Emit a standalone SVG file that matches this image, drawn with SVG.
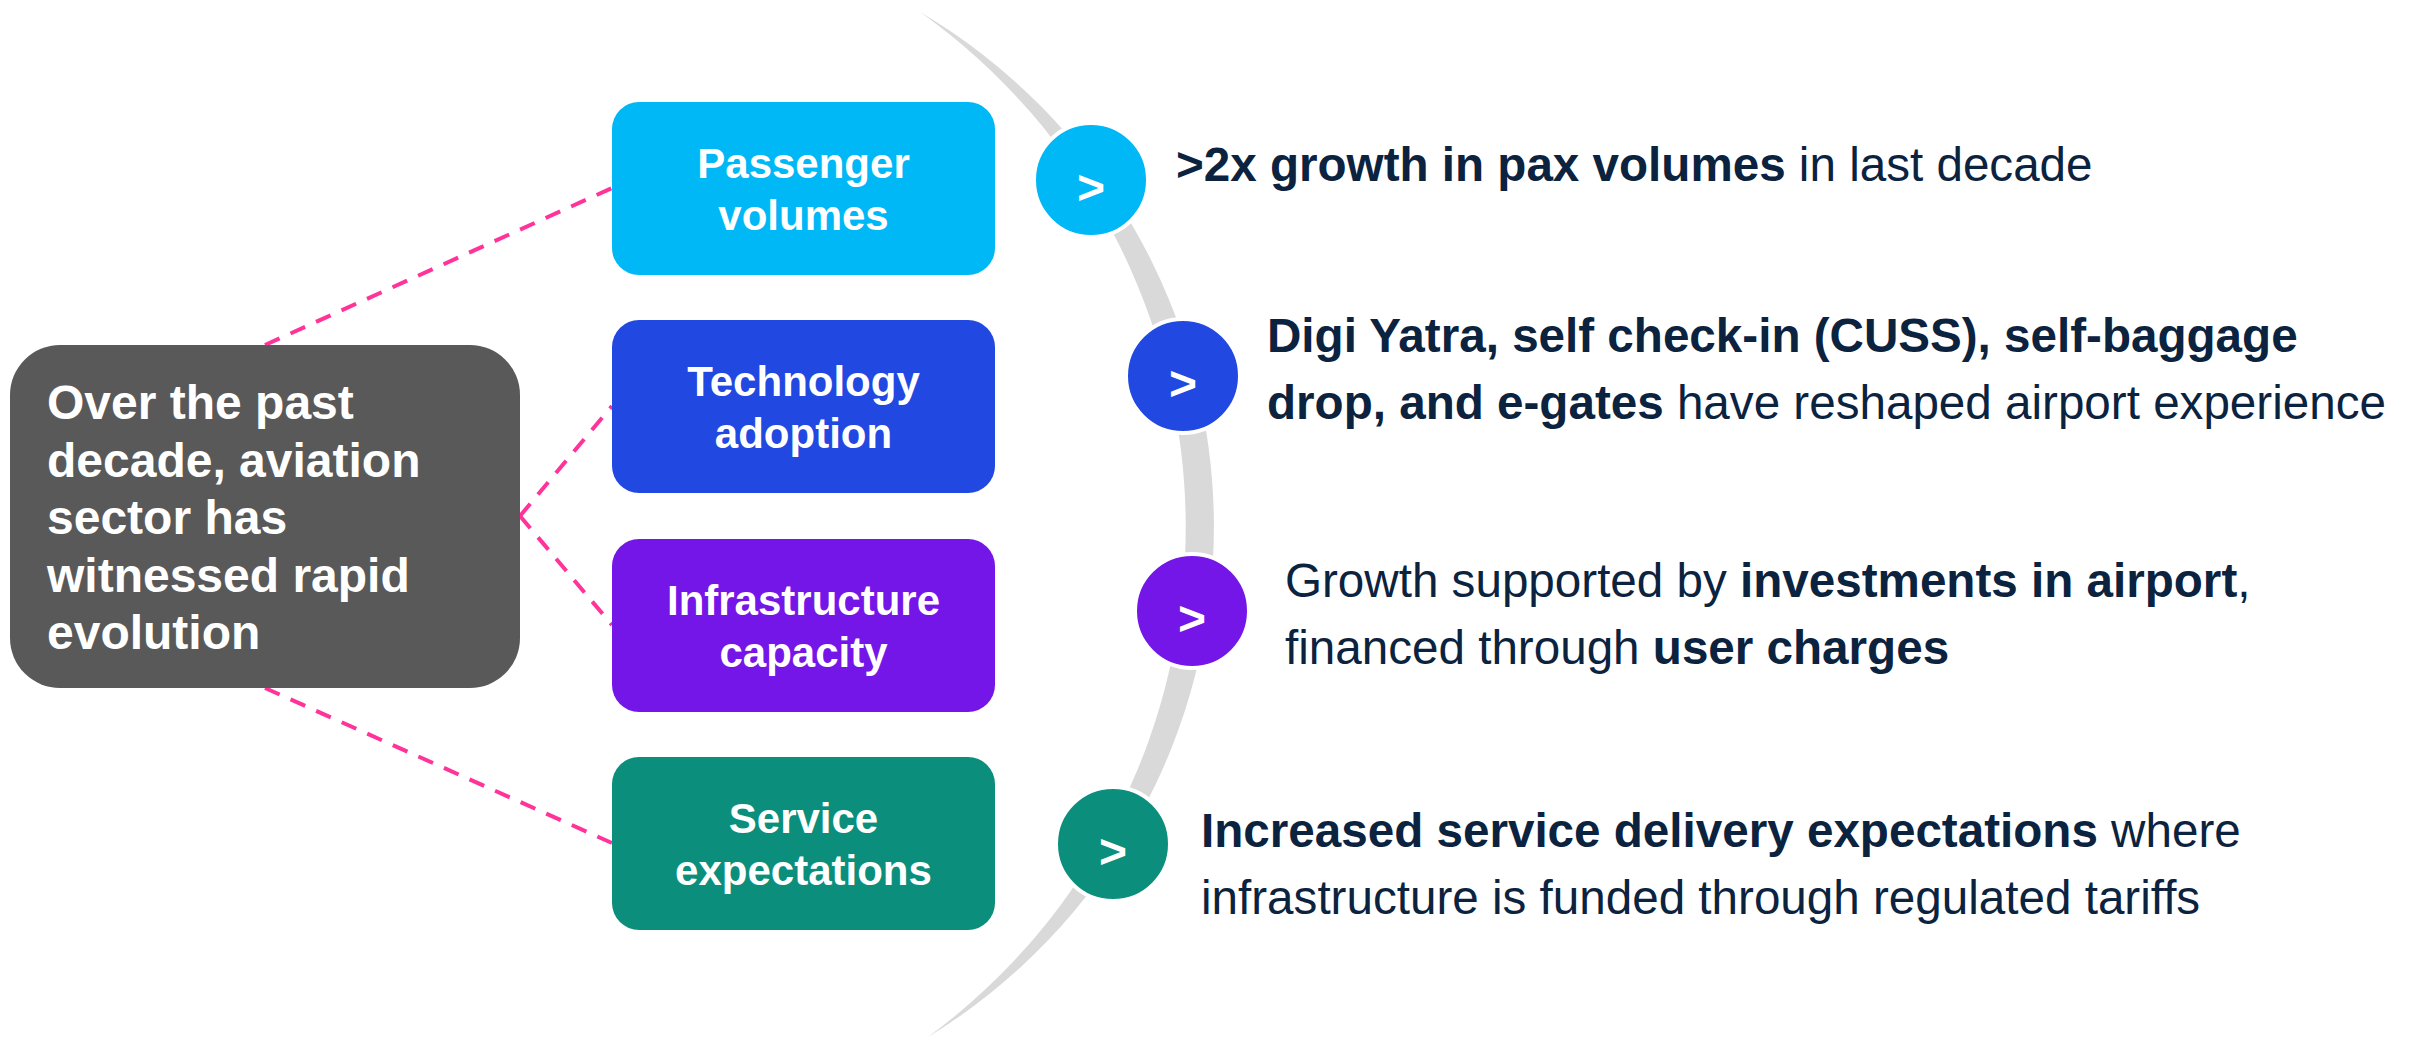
<svg xmlns="http://www.w3.org/2000/svg" width="2417" height="1037" viewBox="0 0 2417 1037">
<style>
  text { font-family: "Liberation Sans", Arial, sans-serif; }
  .lbl { font-size: 42px; font-weight: bold; fill: #ffffff; text-anchor: middle; }
  .hub { font-size: 48px; font-weight: bold; fill: #ffffff; }
  .chev { font-size: 48px; font-weight: bold; fill: #ffffff; text-anchor: middle; }
  .desc { font-size: 47.6px; fill: #0C2340; }
  .b { font-weight: bold; }
  .dash { stroke: #FF3399; stroke-width: 4; stroke-dasharray: 16 12; fill: none; }
  .dot { stroke: #ffffff; stroke-width: 4; }
</style>
<rect width="2417" height="1037" fill="#ffffff"/>

<path id="arc" d="M 920 12 A 598 598 0 0 1 928 1037 A 632.7 632.7 0 0 0 920 12 Z" fill="#D9D9D9"/>

<g id="connectors">
  <line class="dash" x1="265" y1="345" x2="612" y2="188"/>
  <line class="dash" x1="520" y1="516" x2="612" y2="406"/>
  <line class="dash" x1="520" y1="516" x2="612" y2="625"/>
  <line class="dash" x1="265" y1="688" x2="612" y2="843"/>
</g>

<g id="hub">
  <rect x="10" y="345" width="510" height="343" rx="50" fill="#595959"/>
  <text class="hub" x="47" y="419">Over the past</text>
  <text class="hub" x="47" y="476.5">decade, aviation</text>
  <text class="hub" x="47" y="534">sector has</text>
  <text class="hub" x="47" y="591.5">witnessed rapid</text>
  <text class="hub" x="47" y="649">evolution</text>
</g>

<g id="passenger">
  <rect x="612" y="102" width="383" height="173" rx="27" fill="#00B8F5"/>
  <text class="lbl" x="803.5" y="178">Passenger</text>
  <text class="lbl" x="803.5" y="230">volumes</text>
</g>
<g id="technology">
  <rect x="612" y="320" width="383" height="173" rx="27" fill="#2149E1"/>
  <text class="lbl" x="803.5" y="396">Technology</text>
  <text class="lbl" x="803.5" y="448">adoption</text>
</g>
<g id="infrastructure">
  <rect x="612" y="539" width="383" height="173" rx="27" fill="#7516E8"/>
  <text class="lbl" x="803.5" y="615">Infrastructure</text>
  <text class="lbl" x="803.5" y="667">capacity</text>
</g>
<g id="service">
  <rect x="612" y="757" width="383" height="173" rx="27" fill="#0B8F7C"/>
  <text class="lbl" x="803.5" y="833">Service</text>
  <text class="lbl" x="803.5" y="885">expectations</text>
</g>

<g id="point1">
  <circle class="dot" cx="1091" cy="180" r="57" fill="#00B8F5"/>
  <text class="chev" x="1091" y="204">&gt;</text>
  <text class="desc" x="1176" y="181"><tspan class="b">&gt;2x growth in pax volumes</tspan> in last decade</text>
</g>
<g id="point2">
  <circle class="dot" cx="1183" cy="376" r="57" fill="#2149E1"/>
  <text class="chev" x="1183" y="400">&gt;</text>
  <text class="desc" x="1267" y="352"><tspan class="b">Digi Yatra, self check-in (CUSS), self-baggage</tspan></text>
  <text class="desc" x="1267" y="419"><tspan class="b">drop, and e-gates</tspan> have reshaped airport experience</text>
</g>
<g id="point3">
  <circle class="dot" cx="1192" cy="611" r="57" fill="#7516E8"/>
  <text class="chev" x="1192" y="635">&gt;</text>
  <text class="desc" x="1285" y="597">Growth supported by <tspan class="b">investments in airport</tspan>,</text>
  <text class="desc" x="1285" y="664">financed through <tspan class="b">user charges</tspan></text>
</g>
<g id="point4">
  <circle class="dot" cx="1113" cy="844" r="57" fill="#0B8F7C"/>
  <text class="chev" x="1113" y="868">&gt;</text>
  <text class="desc" x="1201" y="847"><tspan class="b">Increased service delivery expectations</tspan> where</text>
  <text class="desc" x="1201" y="914">infrastructure is funded through regulated tariffs</text>
</g>
</svg>
